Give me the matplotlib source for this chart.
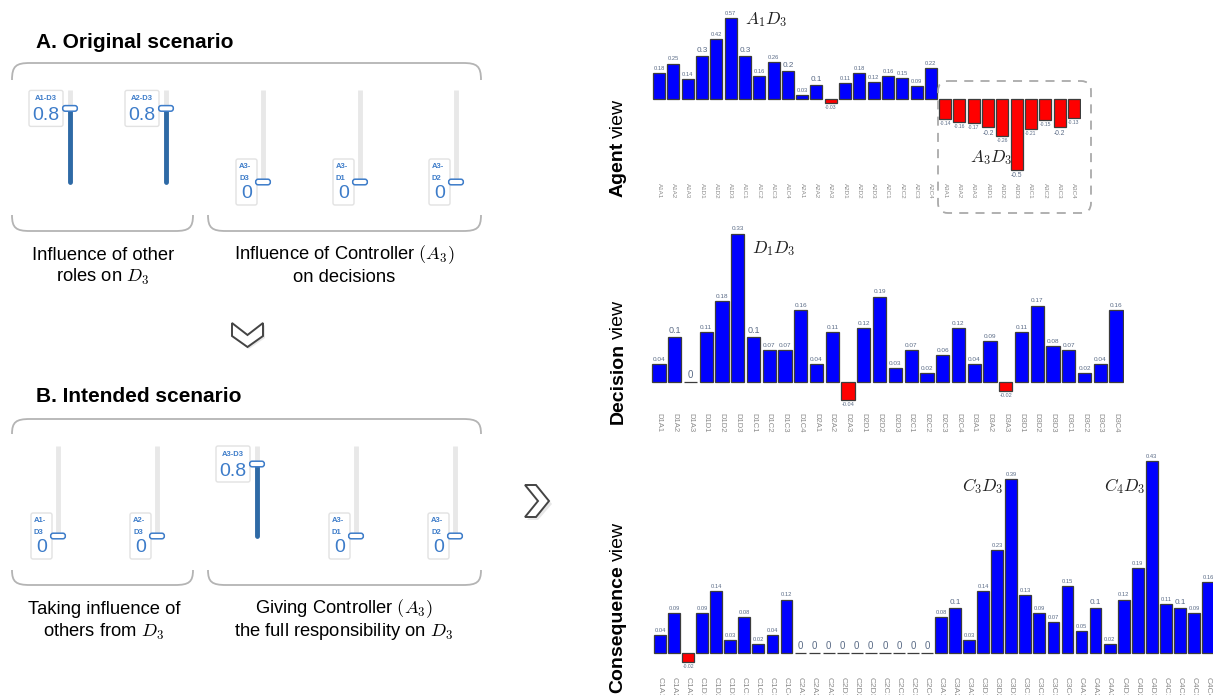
import matplotlib
matplotlib.use('Agg')
import matplotlib.pyplot as plt
from matplotlib.patches import FancyBboxPatch, PathPatch, Polygon
from matplotlib.path import Path
import numpy as np

# ---- data ----
slider_names = ['A1-D3', 'A2-D3', 'A3-D3', 'A3-D1', 'A3-D2']
original_values = [0.8, 0.8, 0, 0, 0]
intended_values = [0, 0, 0.8, 0, 0]

agent_labels = ['A1A1', 'A1A2', 'A1A3', 'A1D1', 'A1D2', 'A1D3', 'A1C1', 'A1C2', 'A1C3', 'A1C4',
                'A2A1', 'A2A2', 'A2A3', 'A2D1', 'A2D2', 'A2D3', 'A2C1', 'A2C2', 'A2C3', 'A2C4',
                'A3A1', 'A3A2', 'A3A3', 'A3D1', 'A3D2', 'A3D3', 'A3C1', 'A3C2', 'A3C3', 'A3C4']
agent_values = [0.18, 0.25, 0.14, 0.3, 0.42, 0.57, 0.3, 0.16, 0.26, 0.2,
                0.03, 0.1, -0.03, 0.11, 0.18, 0.12, 0.16, 0.15, 0.09, 0.22,
                -0.14, -0.16, -0.17, -0.2, -0.26, -0.5, -0.21, -0.15, -0.2, -0.13]

decision_labels = ['D1A1', 'D1A2', 'D1A3', 'D1D1', 'D1D2', 'D1D3', 'D1C1', 'D1C2', 'D1C3', 'D1C4',
                   'D2A1', 'D2A2', 'D2A3', 'D2D1', 'D2D2', 'D2D3', 'D2C1', 'D2C2', 'D2C3', 'D2C4',
                   'D3A1', 'D3A2', 'D3A3', 'D3D1', 'D3D2', 'D3D3', 'D3C1', 'D3C2', 'D3C3', 'D3C4']
decision_values = [0.04, 0.1, 0, 0.11, 0.18, 0.33, 0.1, 0.07, 0.07, 0.16,
                   0.04, 0.11, -0.04, 0.12, 0.19, 0.03, 0.07, 0.02, 0.06, 0.12,
                   0.04, 0.09, -0.02, 0.11, 0.17, 0.08, 0.07, 0.02, 0.04, 0.16]

consequence_labels = ['C1A1', 'C1A2', 'C1A3', 'C1D1', 'C1D2', 'C1D3', 'C1C1', 'C1C2', 'C1C3', 'C1C4',
                      'C2A1', 'C2A2', 'C2A3', 'C2D1', 'C2D2', 'C2D3', 'C2C1', 'C2C2', 'C2C3', 'C2C4',
                      'C3A1', 'C3A2', 'C3A3', 'C3D1', 'C3D2', 'C3D3', 'C3C1', 'C3C2', 'C3C3', 'C3C4',
                      'C4A1', 'C4A2', 'C4A3', 'C4D1', 'C4D2', 'C4D3', 'C4C1', 'C4C2', 'C4C3', 'C4C4']
consequence_values = [0.04, 0.09, -0.02, 0.09, 0.14, 0.03, 0.08, 0.02, 0.04, 0.12,
                      0, 0, 0, 0, 0, 0, 0, 0, 0, 0,
                      0.08, 0.1, 0.03, 0.14, 0.23, 0.39, 0.13, 0.09, 0.07, 0.15,
                      0.05, 0.1, 0.02, 0.12, 0.19, 0.43, 0.11, 0.1, 0.09, 0.16]

W, H = 1213, 695
plt.rcParams['font.family'] = ['Liberation Sans', 'DejaVu Sans']
plt.rcParams['mathtext.fontset'] = 'cm'

fig = plt.figure(figsize=(W / 100, H / 100), dpi=100)
# overlay in pixel coordinates (y down) for the slider panels and decorations
ov = fig.add_axes([0, 0, 1, 1])
ov.set_xlim(0, W)
ov.set_ylim(H, 0)
ov.axis('off')
ov.set_zorder(3)

SLIDER_BLUE = '#3d7cc9'
CAP_FS = 13.2


def bracket(x0, x1, y_line, y_end, r=18):
    s = 1 if y_end > y_line else -1
    verts = [(x0, y_end), (x0, y_line + s * 3), (x0 + 4, y_line), (x0 + r, y_line),
             (x1 - r, y_line),
             (x1 - 4, y_line), (x1, y_line + s * 3), (x1, y_end)]
    codes = [Path.MOVETO, Path.CURVE4, Path.CURVE4, Path.CURVE4,
             Path.LINETO, Path.CURVE4, Path.CURVE4, Path.CURVE4]
    ov.add_patch(PathPatch(Path(verts, codes), fill=False, edgecolor='#b4b4b4', lw=1.3))


def slider(x, top, bottom, value, name):
    ov.plot([x, x], [top, bottom], color='#e8e8e8', lw=3.5, solid_capstyle='butt')
    hy = bottom - value * (bottom - top)
    if value > 0:
        ov.plot([x, x], [hy, bottom], color='#2e6aa6', lw=3.5, solid_capstyle='round')
    ov.add_patch(FancyBboxPatch((x - 6.5, hy - 2), 13, 4,
                                boxstyle='round,pad=0.8,rounding_size=2.5',
                                facecolor='white', edgecolor=SLIDER_BLUE, lw=1.1, zorder=4))
    txt = f'{value:g}'
    if len(txt) > 1:
        bw, bh = 34, 36
        bx, by = x - 7 - bw, hy - bh / 2
        ov.add_patch(FancyBboxPatch((bx, by), bw, bh, boxstyle='round,pad=0,rounding_size=2',
                                    facecolor='white', edgecolor='#e2e2e2', lw=1, zorder=3))
        ov.text(bx + bw / 2, by + 8, name, ha='center', va='center', fontsize=5.5,
                color=SLIDER_BLUE, weight='bold', zorder=5)
        ov.text(bx + bw / 2, by + 25, txt, ha='center', va='center', fontsize=14,
                color=SLIDER_BLUE, zorder=5)
    else:
        bw, bh = 21, 46
        bx, by = x - 6 - bw, hy - bh / 2
        ov.add_patch(FancyBboxPatch((bx, by), bw, bh, boxstyle='round,pad=0,rounding_size=2',
                                    facecolor='white', edgecolor='#e2e2e2', lw=1, zorder=3))
        first, second = name.split('-')
        ov.text(bx + 3, by + 8, first + '-', ha='left', va='center', fontsize=5.5,
                color=SLIDER_BLUE, weight='bold', zorder=5)
        ov.text(bx + 3, by + 19, second, ha='left', va='center', fontsize=5.5,
                color=SLIDER_BLUE, weight='bold', zorder=5)
        ov.text(bx + bw / 2, by + 35, txt, ha='center', va='center', fontsize=14,
                color=SLIDER_BLUE, zorder=5)


# ---- A. Original scenario ----
ov.text(36, 42, 'A. Original scenario', fontsize=15, weight='bold', va='center', ha='left')
bracket(12, 481, 63, 80)
bracket(12, 193, 231, 215)
bracket(208, 481, 231, 215)
for xs, v, n in zip([70, 166, 263, 360, 456], original_values, slider_names):
    slider(xs, 90, 182, v, n)
ov.text(103, 255, 'Influence of other', fontsize=CAP_FS, ha='center', va='center')
ov.text(103, 277, 'roles on $D_3$', fontsize=CAP_FS, ha='center', va='center')
ov.text(344, 255, 'Influence of Controller $(A_3)$', fontsize=CAP_FS, ha='center', va='center')
ov.text(344, 277, 'on decisions', fontsize=CAP_FS, ha='center', va='center')

# down chevron
ov.add_patch(Polygon([(234, 325), (249, 337), (265, 325), (265, 338), (249, 349), (234, 338)],
                     closed=True, facecolor='#d8d8d8', edgecolor='none', alpha=0.6))
ov.add_patch(Polygon([(232, 323), (247.5, 335), (263, 323), (263, 336), (247.5, 347), (232, 336)],
                     closed=True, facecolor='white', edgecolor='#444444', lw=1.4))

# ---- B. Intended scenario ----
ov.text(36, 396, 'B. Intended scenario', fontsize=15, weight='bold', va='center', ha='left')
bracket(12, 481, 419, 434)
bracket(12, 193, 585, 570)
bracket(208, 481, 585, 570)
for xs, v, n in zip([58, 157, 257, 356, 455], intended_values, slider_names):
    slider(xs, 446, 536, v, n)
ov.text(104, 609, 'Taking influence of', fontsize=CAP_FS, ha='center', va='center')
ov.text(104, 632, 'others from $D_3$', fontsize=CAP_FS, ha='center', va='center')
ov.text(344, 609, 'Giving Controller $(A_3)$', fontsize=CAP_FS, ha='center', va='center')
ov.text(344, 632, 'the full responsibility on $D_3$', fontsize=CAP_FS, ha='center', va='center')

# right chevron
ov.add_patch(Polygon([(527, 488), (538, 488), (552, 504), (538, 520), (527, 520), (540, 504)],
                     closed=True, facecolor='#d8d8d8', edgecolor='none', alpha=0.6))
ov.add_patch(Polygon([(525, 485), (536, 485), (549, 501), (536, 517), (525, 517), (538, 501)],
                     closed=True, facecolor='white', edgecolor='#444444', lw=1.4))

# dashed box around A3 bars
ov.add_patch(FancyBboxPatch((938, 81), 153, 132, boxstyle='round,pad=0,rounding_size=10',
                            fill=False, edgecolor='#aaaaaa', lw=1.3, linestyle=(0, (5, 4))))


# ---- bar views ----
def px_axes(left, right, top, bottom):
    ax = fig.add_axes([left / W, 1 - bottom / H, (right - left) / W, (bottom - top) / H])
    ax.set_facecolor('none')
    return ax


def label_fs(s, bar_px, cap=7.0):
    em = sum(0.26 if c == '.' else 0.33 if c == '-' else 0.57 for c in s)
    return min(cap, bar_px / (em * 100 / 72) * 0.95)


def bar_view(ax, labels, values, bar_px, tick_fs, pad, ylim):
    x = np.arange(len(values))
    colors = ['#0000ff' if v >= 0 else '#ff0000' for v in values]
    ax.bar(x, values, width=0.84, color=colors, edgecolor='#3c3c3c', linewidth=0.9)
    for xi, v in zip(x, values):
        s = f'{v:g}'
        ax.annotate(s, (xi, v), xytext=(0, 1.5 if v >= 0 else -1.5), textcoords='offset points',
                    ha='center', va='bottom' if v >= 0 else 'top',
                    fontsize=label_fs(s, bar_px), color='#5a6b86')
    ax.set_xlim(-0.5, len(values) - 0.5)
    ax.set_ylim(*ylim)
    ax.set_xticks(x)
    ax.set_xticklabels(labels, rotation=-90, fontsize=tick_fs, color='#8a8a8a')
    ax.tick_params(length=0, pad=pad)
    ax.set_yticks([])
    for sp in ax.spines.values():
        sp.set_visible(False)


ax1 = px_axes(652, 1081, 10, 178)
bar_view(ax1, agent_labels, agent_values, 12, 4.5, 3.5, (-0.556, 0.627))
ax2 = px_axes(651, 1124, 225, 404)
bar_view(ax2, decision_labels, decision_values, 13.3, 5.5, 6.5, (-0.049, 0.349))
ax3 = px_axes(653, 1215, 455, 670)
bar_view(ax3, consequence_labels, consequence_values, 12, 6, 5, (-0.038, 0.444))

# annotations (left edge, vertical centre)
for (lx, cy), s in zip([(745, 20), (970, 158), (752, 249), (962, 486), (1104, 486)],
                       ['$A_1D_3$', '$A_3D_3$', '$D_1D_3$', '$C_3D_3$', '$C_4D_3$']):
    ov.text(lx, cy, s, fontsize=12.5, ha='left', va='center', color='#222222')

# vertical view titles: bold word + regular "view"
renderer = fig.canvas.get_renderer()
for yb, word in zip([197, 424, 693], ['Agent', 'Decision', 'Consequence']):
    t = ov.text(618, yb, word, rotation=90, ha='center', va='bottom', fontsize=14, weight='bold')
    bb = t.get_window_extent(renderer)
    top = ov.transData.inverted().transform((bb.x0, bb.y1))[1]
    ov.text(618, top - 4, 'view', rotation=90, ha='center', va='bottom', fontsize=14)

fig.savefig('out.png', dpi=100)
